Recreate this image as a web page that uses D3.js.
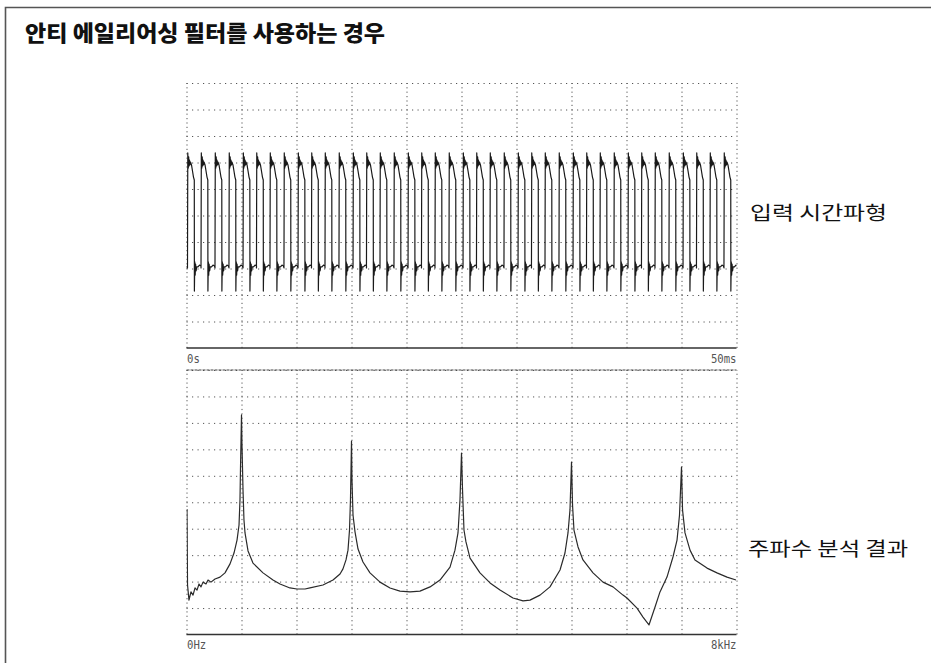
<!DOCTYPE html>
<html>
<head>
<meta charset="utf-8">
<script src="https://cdn.jsdelivr.net/npm/d3@7"></script>
<style>
  body { margin: 0; background: #fff; }
  svg { display: block; }
</style>
</head>
<body>
<div id="chart"></div>
<script>
// Titles / labels
const title = '안티 에일리어싱 필터를 사용하는 경우';
const topLabel = '입력 시간파형';
const bottomLabel = '주파수 분석 결과';
const timeTicks = ['0s', '50ms'];
const freqTicks = ['0Hz', '8kHz'];

// Input waveform: rising-edge times (ms)
const edgeTimes = [0.09, 1.32, 2.59, 3.86, 5.14, 6.36, 7.59, 8.86, 10.14, 11.36,
  12.59, 13.86, 15.14, 16.36, 17.59, 18.86, 20.14, 21.36, 22.59, 23.86,
  25.14, 26.36, 27.59, 28.86, 30.14, 31.36, 32.59, 33.86, 35.14, 36.36,
  37.59, 38.86, 40.14, 41.36, 42.59, 43.86, 45.14, 46.36, 47.59, 48.86];
// one period of the trace, offset from rising edge (ms) and level (div)
const cycleOffset = [0, 0.027, 0.073, 0.109, 0.145, 0.182, 0.227, 0.273, 0.364, 0.455,
  0.545, 0.618, 0.627, 0.664, 0.700, 0.736, 0.782, 0.836, 0.955, 1.091, 1.227];
const cycleLevel = [3.02, 7.36, 6.79, 7.21, 6.87, 7.09, 6.91, 7.02, 6.91, 6.68,
  6.45, 6.34, 2.15, 3.25, 2.75, 3.17, 2.91, 3.06, 3.06, 3.13, 3.09];

// Spectrum: frequency (kHz) and level (div)
const specFreq = [0.007, 0.015, 0.036, 0.065, 0.095, 0.124, 0.153, 0.182, 0.211, 0.240,
  0.284, 0.313, 0.356, 0.415, 0.487, 0.560, 0.633, 0.691, 0.735, 0.764,
  0.778, 0.785, 0.793, 0.800, 0.807, 0.822, 0.836, 0.851, 0.895, 0.967,
  1.113, 1.258, 1.360, 1.505, 1.607, 1.724, 1.796, 1.985, 2.131, 2.233,
  2.276, 2.320, 2.349, 2.371, 2.385, 2.400, 2.407, 2.422, 2.451, 2.495,
  2.567, 2.669, 2.815, 2.960, 3.105, 3.251, 3.396, 3.542, 3.687, 3.833,
  3.905, 3.949, 3.978, 4.000, 4.015, 4.036, 4.065, 4.124, 4.269, 4.415,
  4.560, 4.749, 4.895, 4.996, 5.142, 5.287, 5.433, 5.505, 5.549, 5.578,
  5.600, 5.615, 5.636, 5.695, 5.767, 5.913, 6.058, 6.204, 6.349, 6.407,
  6.553, 6.640, 6.727, 6.815, 6.887, 6.989, 7.076, 7.135, 7.171, 7.200,
  7.215, 7.251, 7.324, 7.396, 7.571, 7.716, 7.862, 7.993];
const specLevel = [4.74, 1.87, 1.30, 1.61, 1.49, 1.76, 1.68, 1.91, 1.80, 1.98,
  1.91, 2.06, 1.98, 2.10, 2.17, 2.33, 2.67, 3.08, 3.57, 4.14,
  5.09, 6.22, 7.35, 8.30, 7.16, 5.46, 4.33, 3.84, 3.16, 2.70,
  2.33, 2.06, 1.91, 1.76, 1.72, 1.72, 1.76, 1.87, 2.06, 2.29,
  2.48, 2.82, 3.19, 3.95, 5.09, 7.31, 5.84, 4.52, 3.88, 3.23,
  2.74, 2.33, 1.98, 1.76, 1.64, 1.61, 1.64, 1.80, 2.06, 2.55,
  3.19, 3.84, 5.09, 6.86, 5.46, 3.95, 3.50, 2.89, 2.33, 1.95,
  1.68, 1.38, 1.27, 1.30, 1.49, 1.80, 2.44, 3.08, 3.84, 4.71,
  6.52, 4.90, 3.95, 3.31, 2.82, 2.33, 1.98, 1.80, 1.49, 1.38,
  1.00, 0.66, 0.36, 1.04, 1.61, 2.17, 2.93, 3.57, 4.52, 6.33,
  4.71, 3.84, 3.19, 2.82, 2.51, 2.33, 2.17, 2.06];

const width = 931;
const height = 663;
const left = 186.5, right = 736.5;

const svg = d3.select('#chart').append('svg')
  .attr('width', width)
  .attr('height', height)
  .attr('viewBox', `0 0 ${width} ${height}`);

// outer frame (top + left only)
svg.append('path')
  .attr('d', `M5.5,${height} V7.5 H${width}`)
  .attr('fill', 'none')
  .attr('stroke', '#555')
  .attr('stroke-width', 1.6);

svg.append('text')
  .attr('x', 25)
  .attr('y', 41)
  .attr('font-family', '"Noto Sans CJK KR", sans-serif')
  .attr('font-weight', 900)
  .attr('font-size', 22)
  .attr('textLength', 360)
  .attr('lengthAdjust', 'spacingAndGlyphs')
  .attr('fill', '#111')
  .text(title);

// scales
const xTime = d3.scaleLinear().domain([0, 50]).range([left, right]);
const yTop = d3.scaleLinear().domain([0, 10]).range([348, 83]);
const xFreq = d3.scaleLinear().domain([0, 8]).range([left, right]);
const yBot = d3.scaleLinear().domain([0, 10]).range([634.5, 370]);

// dotted grid built from axes
function drawGrid(x, y, xDivs) {
  const g = svg.append('g');
  const y0 = y.range()[0], y1 = y.range()[1];
  g.append('g')
    .attr('transform', `translate(0,${y0})`)
    .call(d3.axisBottom(x).tickValues(xDivs).tickSize(y1 - y0).tickFormat(''))
    .call(a => a.select('.domain').remove())
    .selectAll('line')
    .attr('stroke', '#555')
    .attr('stroke-width', 1)
    .attr('stroke-dasharray', '1.2 3.2');
  g.append('g')
    .attr('transform', `translate(${left},0)`)
    .call(d3.axisLeft(y).tickValues(d3.range(1, 11)).tickSize(left - right).tickFormat(''))
    .call(a => a.select('.domain').remove())
    .selectAll('line')
    .attr('stroke', '#555')
    .attr('stroke-width', 1)
    .attr('stroke-dasharray', '1.2 4.3');
}

drawGrid(xTime, yTop, d3.range(0, 51, 5));
drawGrid(xFreq, yBot, d3.range(0, 8.01, 0.8));

// panel base lines
svg.append('line')
  .attr('x1', left).attr('x2', right)
  .attr('y1', yTop(0)).attr('y2', yTop(0))
  .attr('stroke', '#333').attr('stroke-width', 1.3);
svg.append('line')
  .attr('x1', left).attr('x2', right)
  .attr('y1', yBot(10)).attr('y2', yBot(10))
  .attr('stroke', '#444').attr('stroke-width', 1.2)
  .attr('stroke-dasharray', '3 1');
svg.append('line')
  .attr('x1', left).attr('x2', right)
  .attr('y1', yBot(0)).attr('y2', yBot(0))
  .attr('stroke', '#333').attr('stroke-width', 1.3);

// clip for traces
const defs = svg.append('defs');
defs.append('clipPath').attr('id', 'clipTop')
  .append('rect').attr('x', left).attr('y', 83).attr('width', right - left).attr('height', 265);
defs.append('clipPath').attr('id', 'clipBot')
  .append('rect').attr('x', left).attr('y', 370).attr('width', right - left).attr('height', 264.5);

// waveform
const wave = [{ t: 0, v: cycleLevel[cycleLevel.length - 1] }];
edgeTimes.forEach(t0 => {
  cycleOffset.forEach((dt, i) => wave.push({ t: t0 + dt, v: cycleLevel[i] }));
});

svg.append('path')
  .datum(wave)
  .attr('clip-path', 'url(#clipTop)')
  .attr('fill', 'none')
  .attr('stroke', '#1a1a1a')
  .attr('stroke-width', 1.2)
  .attr('stroke-linejoin', 'round')
  .attr('d', d3.line().x(d => xTime(d.t)).y(d => yTop(d.v)));

// spectrum
const spec = specFreq.map((f, i) => ({ f, v: specLevel[i] }));
svg.append('path')
  .datum(spec)
  .attr('clip-path', 'url(#clipBot)')
  .attr('fill', 'none')
  .attr('stroke', '#2a2a2a')
  .attr('stroke-width', 1.2)
  .attr('stroke-linejoin', 'round')
  .attr('d', d3.line().x(d => xFreq(d.f)).y(d => yBot(d.v)));

// end labels under each panel
[[xTime, 348, timeTicks], [xFreq, 634.5, freqTicks]].forEach(([x, y, labels]) => {
  x.domain().forEach((d, i) => {
    svg.append('text')
      .attr('x', x(d) + (i === 0 ? 0.5 : 0))
      .attr('y', y + 14.5)
      .attr('font-family', '"DejaVu Sans Mono", monospace')
      .attr('font-size', 13)
      .attr('fill', '#555')
      .attr('text-anchor', i === 0 ? 'start' : 'end')
      .attr('textLength', labels[i].length * 6.4)
      .attr('lengthAdjust', 'spacingAndGlyphs')
      .text(labels[i]);
  });
});

// side labels
svg.append('text')
  .attr('x', 750)
  .attr('y', 220)
  .attr('font-family', '"Noto Sans CJK KR", sans-serif')
  .attr('font-size', 19)
  .attr('textLength', 137)
  .attr('lengthAdjust', 'spacingAndGlyphs')
  .attr('fill', '#111')
  .text(topLabel);

svg.append('text')
  .attr('x', 748)
  .attr('y', 556)
  .attr('font-family', '"Noto Sans CJK KR", sans-serif')
  .attr('font-size', 19)
  .attr('textLength', 160)
  .attr('lengthAdjust', 'spacingAndGlyphs')
  .attr('fill', '#111')
  .text(bottomLabel);
</script>
</body>
</html>
